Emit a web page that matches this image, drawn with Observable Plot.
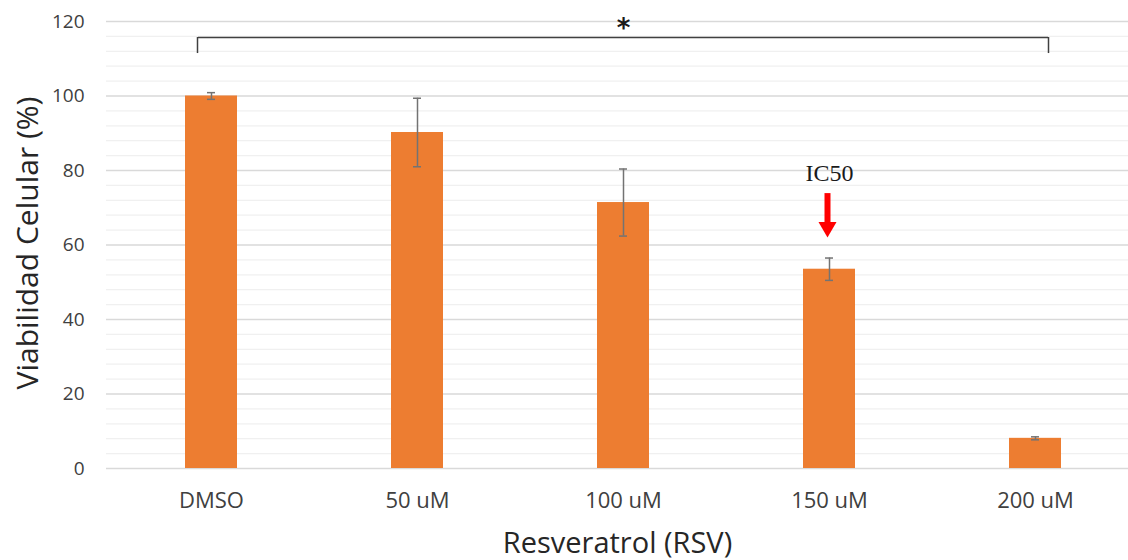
<!DOCTYPE html>
<html>
<head>
<meta charset="utf-8">
<script src="https://cdn.jsdelivr.net/npm/d3@7"></script>
<script src="https://cdn.jsdelivr.net/npm/@observablehq/plot@0.6"></script>
<style>
  html, body { margin: 0; padding: 0; background: #ffffff; }
  #chart { width: 1128px; height: 560px; overflow: hidden; }
</style>
</head>
<body>
<div id="chart"></div>
<script>
// Data
const categories = ["DMSO", "50 uM", "100 uM", "150 uM", "200 uM"];
const viability = [100, 90.2, 71.4, 53.5, 8.1];
const errors = [0.9, 9.2, 9.0, 3.0, 0.4];
const yTicks = [0, 20, 40, 60, 80, 100, 120];
const yMinorTicks = [4, 8, 12, 16, 24, 28, 32, 36, 44, 48, 52, 56, 64, 68, 72, 76, 84, 88, 92, 96, 104, 108, 112, 116];
const bracket = {from: "DMSO", to: "200 uM", mid: "100 uM", top: 115.7, bottom: 111.4, starY: 120, label: "*"};
const annotation = {category: "150 uM", label: "IC50", labelY: 79.2, arrowTop: 73.8, arrowShaftEnd: 65.6, arrowHead: 64.8};
const yTitle = "Viabilidad Celular (%)";
const xTitle = "Resveratrol (RSV)";

const rows = categories.map((c, i) => ({cat: c, v: viability[i], e: errors[i]}));

const chart = Plot.plot({
  width: 1128,
  height: 560,
  marginTop: 21,
  marginBottom: 92,
  marginLeft: 106,
  marginRight: 0,
  style: {fontFamily: "Open Sans", background: "#ffffff", overflow: "visible"},
  x: {type: "band", domain: categories, range: [106, 1140], paddingInner: 0.75, paddingOuter: 0.375},
  y: {domain: [0, 120]},
  marks: [
    Plot.ruleY(yMinorTicks, {stroke: "#f0f0f0", strokeWidth: 1.3}),
    Plot.ruleY(yTicks, {stroke: "#d9d9d9", strokeWidth: 1.3}),
    Plot.barY(rows, {x: "cat", y: "v", fill: "#ED7D31"}),
    Plot.ruleX(rows, {x: "cat", y1: d => d.v - d.e, y2: d => d.v + d.e, stroke: "#737373", strokeWidth: 1.5}),
    Plot.tickY(rows, {x: "cat", y: d => d.v + d.e, stroke: "#737373", strokeWidth: 1.5, insetLeft: 22, insetRight: 22}),
    Plot.tickY(rows, {x: "cat", y: d => d.v - d.e, stroke: "#737373", strokeWidth: 1.5, insetLeft: 22, insetRight: 22}),
    // significance bracket
    Plot.ruleY([bracket], {x1: "from", x2: "to", y: "top", stroke: "#404040", strokeWidth: 1.5, insetLeft: 13, insetRight: 13}),
    Plot.ruleX([bracket], {x: "from", y1: "bottom", y2: "top", stroke: "#404040", strokeWidth: 1.5, dx: -14}),
    Plot.ruleX([bracket], {x: "to", y1: "bottom", y2: "top", stroke: "#404040", strokeWidth: 1.5, dx: 13}),
    Plot.text([bracket], {x: "mid", y: "starY", text: "label", fontSize: 26, fontWeight: "bold", fill: "#1a1a1a", dy: 7, fontFamily: "DejaVu Sans"}),
    // IC50 annotation
    Plot.text([annotation], {x: "category", y: "labelY", text: "label", fontSize: 24, fontFamily: "Liberation Serif", fill: "#1a1a1a"}),
    Plot.ruleX([annotation], {x: "category", y1: "arrowShaftEnd", y2: "arrowTop", stroke: "#ff0000", strokeWidth: 6, dx: -2}),
    Plot.dot([annotation], {x: "category", y: "arrowHead", symbol: "triangle", r: 6.7, fill: "#ff0000", rotate: 180, dx: -2}),
    // axes
    Plot.axisY({ticks: yTicks, tickSize: 0, tickPadding: 22, fontSize: 19, fill: "#404040", label: null}),
    Plot.axisX({tickSize: 0, tickPadding: 24, fontSize: 22, fill: "#404040", label: null}),
    Plot.text([yTitle], {frameAnchor: "left", textAnchor: "middle", rotate: -90, dx: -78, dy: -2, fontSize: 30, fill: "#262626"}),
    Plot.text([xTitle], {frameAnchor: "bottom", textAnchor: "middle", dy: 84, fontSize: 29, fill: "#262626"})
  ]
});
document.getElementById("chart").appendChild(chart);
</script>
</body>
</html>
